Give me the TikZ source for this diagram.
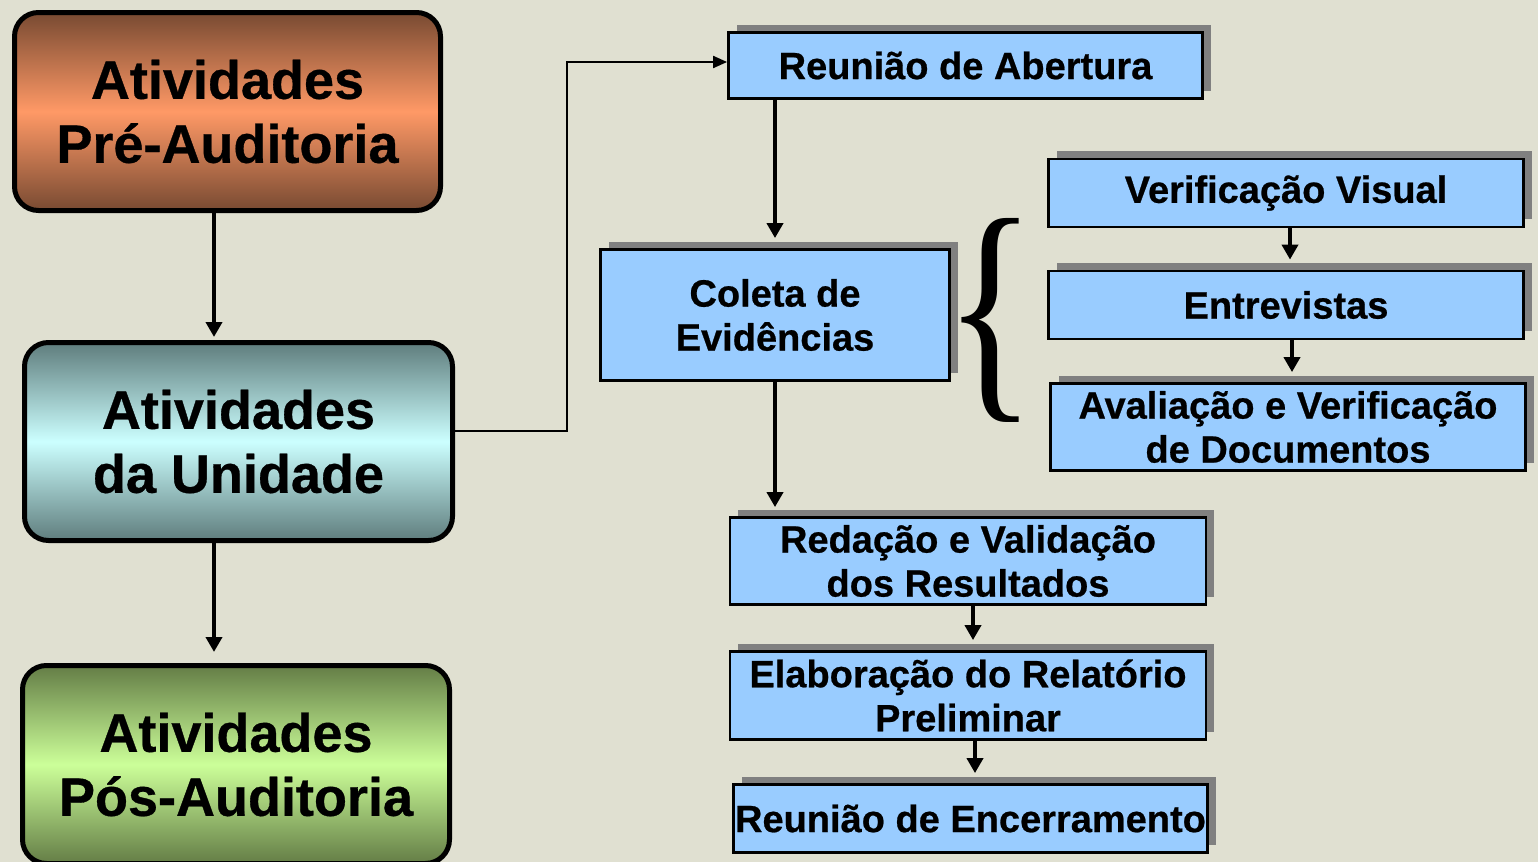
\documentclass[tikz,border=0pt]{standalone}
\usepackage{fontspec}
\setmainfont{Liberation Sans}[BoldFeatures={FakeBold=0.6}]
\newfontfamily\bracefont{Liberation Serif}
\usetikzlibrary{arrows.meta,shadows}
\definecolor{bg}{RGB}{224,224,209}
\definecolor{boxblue}{RGB}{153,204,255}
\definecolor{shadowgray}{RGB}{128,128,128}
\definecolor{brdark}{RGB}{120,74,50}
\definecolor{brlight}{RGB}{255,153,102}
\definecolor{cydark}{RGB}{95,125,125}
\definecolor{cylight}{RGB}{204,255,255}
\definecolor{grdark}{RGB}{100,125,70}
\definecolor{grlight}{RGB}{204,255,153}
\begin{document}
\begin{tikzpicture}[x=0.5pt,y=-0.5pt,
  bigbox/.style={draw=black, line width=2.5pt, rounded corners=12pt,
    minimum width=213pt, minimum height=99pt, align=center, inner sep=0pt,
    font=\fontsize{27}{32}\selectfont\bfseries},
  bluebox/.style={draw=black, line width=1.4pt, fill=boxblue, align=center, inner sep=0pt,
    font=\fontsize{19}{22}\selectfont\bfseries,
    drop shadow={shadow xshift=4pt, shadow yshift=4pt, fill=shadowgray, opacity=1}},
  arr/.style={line width=2.2pt, -{Triangle[length=7.5pt,width=8pt]}},
  thinarr/.style={line width=1pt, -{Triangle[length=7pt,width=6pt]}}
]
\fill[bg] (0,0) rectangle (1538,862);
\useasboundingbox (0,0) rectangle (1538,862);

% left column
\node[bigbox, top color=brdark, bottom color=brdark, middle color=brlight] (b1) at (227.5,111.5) {Atividades\\Pré-Auditoria};
\node[bigbox, top color=cydark, bottom color=cydark, middle color=cylight, minimum width=214pt] (b2) at (238.5,441.5) {Atividades\\da Unidade};
\node[bigbox, top color=grdark, bottom color=grdark, middle color=grlight, minimum width=213.5pt] (b3) at (236,764.5) {Atividades\\Pós-Auditoria};

% right column
\node[bluebox, minimum width=237pt, minimum height=33pt] (ra) at (965.5,65.5) {Reunião de Abertura};
\node[bluebox, minimum width=174.5pt, minimum height=65.5pt] (col) at (775,315) {Coleta de\\Evidências};
\node[bluebox, minimum width=237.5pt, minimum height=34pt] (vv) at (1286,193) {Verificação Visual};
\node[bluebox, minimum width=237.5pt, minimum height=34pt] (ent) at (1286,305) {Entrevistas};
\node[bluebox, minimum width=237.5pt, minimum height=43.5pt] (ava) at (1288,427) {Avaliação e Verificação\\de Documentos};
\node[bluebox, minimum width=238pt, minimum height=43.5pt] (red) at (968,561) {Redação e Validação\\dos Resultados};
\node[bluebox, minimum width=238pt, minimum height=44pt] (ela) at (968,695.5) {Elaboração do Relatório\\Preliminar};
\node[bluebox, minimum width=237pt, minimum height=34pt] (enc) at (970.5,818.5) {Reunião de Encerramento};

% brace
\node[inner sep=0pt] (brace) at (991,320) {\resizebox*{46pt}{102pt}{\bracefont\{}};

% connectors
\draw[arr, shorten >=1.5pt] ([xshift=-6.75pt]b1.south) -- ([xshift=-6.75pt]b1.south |- b2.north);
\draw[arr, shorten >=5.5pt] ([xshift=-12.25pt]b2.south) -- ([xshift=-12.25pt]b2.south |- b3.north);
\coordinate (bend) at (567,431);
\draw[thinarr] ([yshift=5.25pt]b2.east) -- (bend) |- ([yshift=1.75pt]ra.west);
\draw[arr, shorten >=5pt] (col.north |- ra.south) -- (col.north);
\draw[arr, shorten >=4.5pt] (col.south) -- (col.south |- red.north);
\draw[arr, shorten >=5pt] ([xshift=2pt]vv.south) -- ([xshift=2pt]vv.south |- ent.north);
\draw[arr, shorten >=5pt] ([xshift=3pt]ent.south) -- ([xshift=3pt]ent.south |- ava.north);
\draw[arr, shorten >=5pt] ([xshift=2.5pt]red.south) -- ([xshift=2.5pt]red.south |- ela.north);
\draw[arr, shorten >=5pt] ([xshift=3.5pt]ela.south) -- ([xshift=3.5pt]ela.south |- enc.north);
\end{tikzpicture}
\end{document}
